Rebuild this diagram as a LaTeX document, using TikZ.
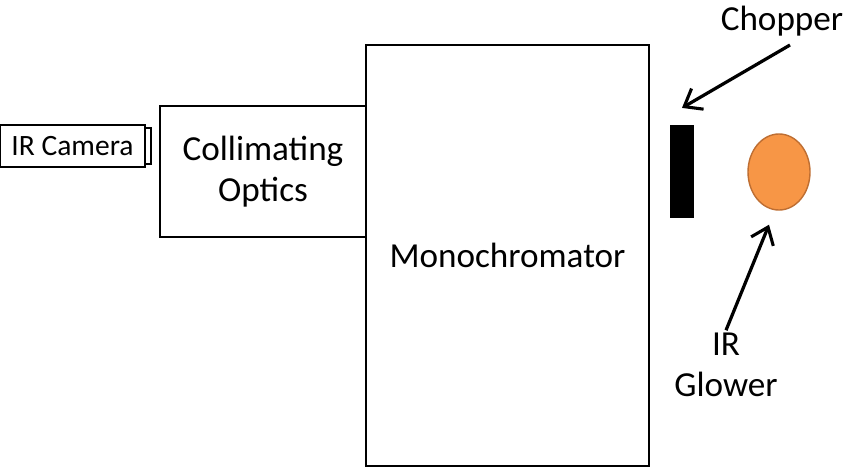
\documentclass[tikz,border=0pt]{standalone}
\usepackage{fontspec}
\setmainfont{Carlito}
\usepackage{tikz}
\usetikzlibrary{arrows.meta,positioning,shapes.geometric}
\definecolor{glow}{RGB}{247,150,70}
\definecolor{glowedge}{RGB}{190,110,50}

\begin{document}
\begin{tikzpicture}[x=0.025cm,y=-0.025cm,
    box/.style={draw,line width=1.4pt,fill=white,inner sep=0pt},
    lbl/.style={font=\fontsize{25}{29}\selectfont,align=center},
    arr/.style={-{Straight Barb[length=11pt,width=17pt,line width=2.2pt]},line width=2.3pt}]
  \useasboundingbox (0,0) rectangle (846,468);
  % instrument chain
  \node[box,minimum width=3.625cm,minimum height=1.05cm,font=\fontsize{21}{25}\selectfont] (cam) at (72.5,146) {IR Camera};
  \node[box,minimum width=0.15cm,minimum height=0.9cm] (tab) at (148,146) {};
  \node[box,lbl,minimum width=5.15cm,minimum height=3.275cm] (coll) at (263,171.5) {Collimating\\Optics};
  \node[box,lbl,minimum width=7.075cm,minimum height=10.525cm] (mono) at (507.5,255.5) {Monochromator};
  % source side
  \node[fill=black,minimum width=0.6cm,minimum height=2.325cm,inner sep=0pt] (chop) at (682,171.5) {};
  \node[ellipse,fill=glow,draw=glowedge,line width=1pt,minimum width=1.55cm,minimum height=1.9cm,inner sep=0pt] (glower) at (779,172) {};
  \node[lbl] (choplbl) at (782,21) {Chopper};
  \node[lbl] (glowlbl) at (726,365) {IR\\Glower};
  \draw[arr] ([xshift=0.2cm,yshift=-0.1cm]choplbl.south) -- ([yshift=0.42cm]chop.north);
  \draw[arr] ([yshift=-0.05cm]glowlbl.north) -- ([xshift=-0.25cm,yshift=-0.35cm]glower.south);
\end{tikzpicture}
\end{document}
